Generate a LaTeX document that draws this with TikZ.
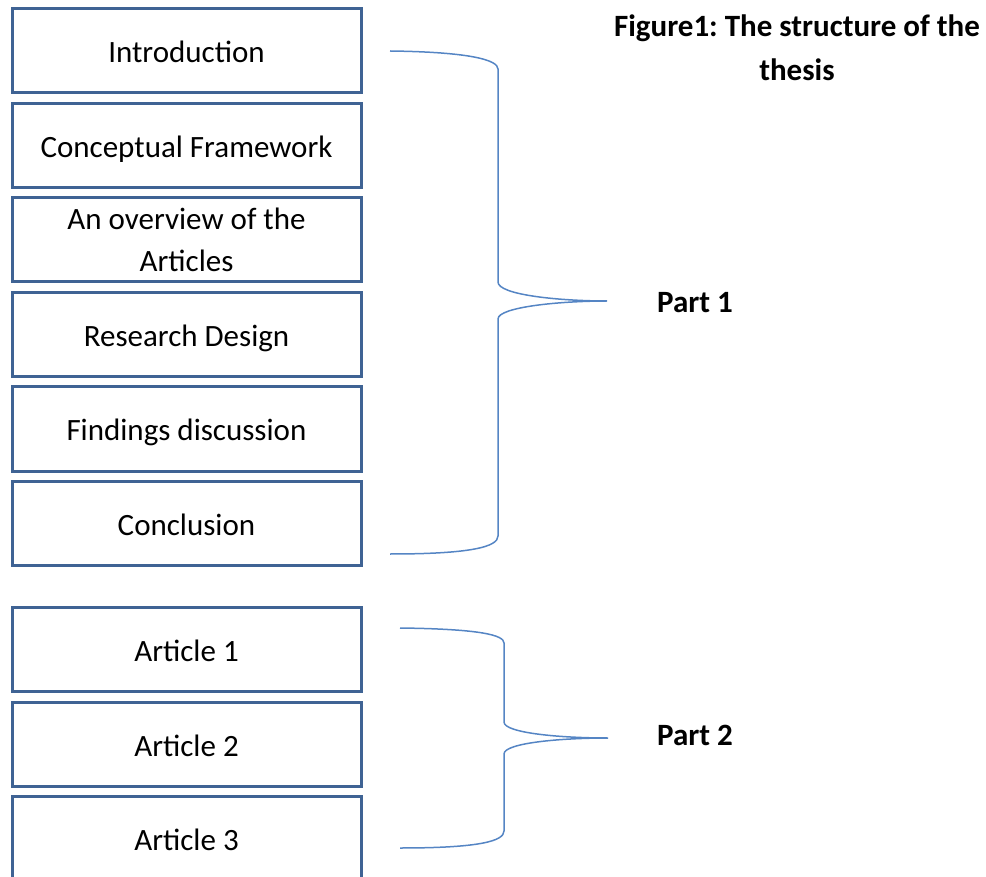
\documentclass[tikz,border=0pt]{standalone}
\usepackage{fontspec}
\setmainfont{Carlito}
\frenchspacing
\definecolor{boxline}{HTML}{3F6394}
\definecolor{braceline}{HTML}{5585C4}
\begin{document}
\begin{tikzpicture}[x=1pt,y=-1pt,
  chapter/.style={draw=boxline, line width=3pt, rectangle, inner sep=0pt,
    minimum width=349pt, minimum height=84pt, align=center,
    font=\fontsize{31}{42}\selectfont},
  oneline/.style={chapter, text height=30pt, text depth=6pt},
  bracepath/.style={draw=braceline, line width=1.5pt},
  label/.style={font=\fontsize{31}{44}\selectfont\bfseries, align=center}]
\useasboundingbox (0,0) rectangle (986,877);
\clip (0,0) rectangle (986,877);

% chapters of part 1
\node[oneline] (intro)    at (186.5,51)  {Introduction};
\node[oneline] (concept)  at (186.5,146) {Conceptual Framework};
\node[chapter] (overview) at (186.5,240) {An overview of the\\Articles};
\node[oneline] (design)   at (186.5,335) {Research Design};
\node[oneline] (findings) at (186.5,429) {Findings discussion};
\node[oneline] (concl)    at (186.5,523) {Conclusion};

% articles of part 2
\node[oneline] (art1) at (186.5,649.5) {Article 1};
\node[oneline] (art2) at (186.5,744)   {Article 2};
\node[oneline] (art3) at (186.5,838)   {Article 3};

% title and part labels
\node[label] (title) at (797,48) {Figure1: The structure of the\\thesis};
\node[label] (part1) at (695,303) {Part 1};
\node[label] (part2) at (695,735) {Part 2};

% brace grouping part 1
\coordinate (b1top) at (390,51);
\coordinate (b1tip) at (607,301);
\coordinate (b1bot) at (390,554);
\draw[bracepath] (b1top) .. controls (470,52) and (498,60) .. (498,69)
  -- (498,282) .. controls (498,295) and (560,301) .. (b1tip)
  .. controls (560,301) and (498,307) .. (498,319)
  -- (498,536) .. controls (498,547) and (470,554) .. (b1bot);

% brace grouping part 2
\coordinate (b2top) at (400,628);
\coordinate (b2tip) at (608,738);
\coordinate (b2bot) at (400,848);
\draw[bracepath] (b2top) .. controls (480,629) and (504,635) .. (504,643)
  -- (504,722) .. controls (504,733) and (560,738) .. (b2tip)
  .. controls (560,738) and (504,743) .. (504,754)
  -- (504,831) .. controls (504,841) and (480,848) .. (b2bot);
\end{tikzpicture}
\end{document}
